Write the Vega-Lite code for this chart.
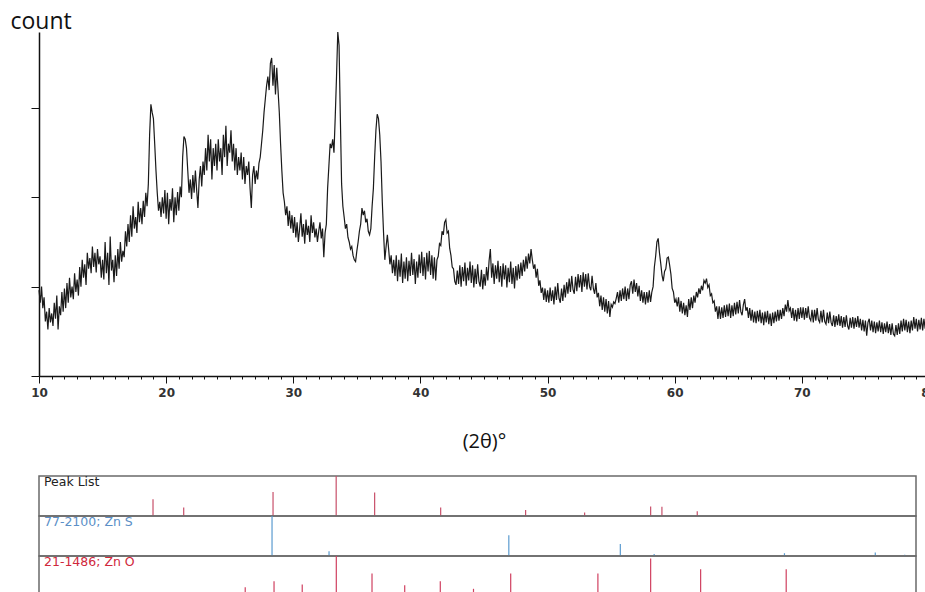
{
"$schema": "https://vega.github.io/schema/vega-lite/v6.json",
"padding": {"left": 10, "top": 10, "right": 0, "bottom": 0},
"background": "white",
"config": {"view": {"stroke": "#6a6a6a", "strokeWidth": 1.5}},
"resolve": {"scale": {"x": "independent", "y": "independent", "color": "independent"}},
"spacing": 23,
"vconcat": [
{
"width": 890, "height": 344,
"view": {"stroke": null},
"data": {"values": [
{"theta":10.0,"count":960},{"theta":10.1,"count":820},{"theta":10.2,"count":1000},{"theta":10.3,"count":760},{"theta":10.4,"count":880},{"theta":10.5,"count":610},{"theta":10.6,"count":720},{"theta":10.7,"count":520},{"theta":10.8,"count":760},{"theta":10.9,"count":600},
{"theta":11.0,"count":700},{"theta":11.1,"count":560},{"theta":11.2,"count":820},{"theta":11.3,"count":640},{"theta":11.4,"count":900},{"theta":11.5,"count":520},{"theta":11.6,"count":780},{"theta":11.7,"count":680},{"theta":11.8,"count":940},{"theta":11.9,"count":720},
{"theta":12.0,"count":980},{"theta":12.1,"count":760},{"theta":12.2,"count":1040},{"theta":12.3,"count":820},{"theta":12.4,"count":1100},{"theta":12.5,"count":880},{"theta":12.6,"count":1000},{"theta":12.7,"count":860},{"theta":12.8,"count":1150},{"theta":12.9,"count":940},
{"theta":13.0,"count":1080},{"theta":13.1,"count":900},{"theta":13.2,"count":1220},{"theta":13.3,"count":1000},{"theta":13.4,"count":1300},{"theta":13.5,"count":1100},{"theta":13.6,"count":1250},{"theta":13.7,"count":1020},{"theta":13.8,"count":1380},{"theta":13.9,"count":1200},
{"theta":14.0,"count":1320},{"theta":14.1,"count":1150},{"theta":14.2,"count":1450},{"theta":14.3,"count":1220},{"theta":14.4,"count":1380},{"theta":14.5,"count":1160},{"theta":14.6,"count":1420},{"theta":14.7,"count":1250},{"theta":14.8,"count":1340},{"theta":14.9,"count":1100},
{"theta":15.0,"count":1300},{"theta":15.1,"count":1080},{"theta":15.2,"count":1500},{"theta":15.3,"count":1150},{"theta":15.4,"count":1380},{"theta":15.5,"count":1020},{"theta":15.6,"count":1560},{"theta":15.7,"count":1180},{"theta":15.8,"count":1300},{"theta":15.9,"count":1050},
{"theta":16.0,"count":1350},{"theta":16.1,"count":1120},{"theta":16.2,"count":1420},{"theta":16.3,"count":1200},{"theta":16.4,"count":1500},{"theta":16.5,"count":1280},{"theta":16.6,"count":1400},{"theta":16.7,"count":1330},{"theta":16.8,"count":1620},{"theta":16.9,"count":1450},
{"theta":17.0,"count":1700},{"theta":17.1,"count":1500},{"theta":17.2,"count":1800},{"theta":17.3,"count":1560},{"theta":17.4,"count":1900},{"theta":17.5,"count":1650},{"theta":17.6,"count":1780},{"theta":17.7,"count":1600},{"theta":17.8,"count":1950},{"theta":17.9,"count":1720},
{"theta":18.0,"count":1880},{"theta":18.1,"count":1700},{"theta":18.2,"count":1960},{"theta":18.3,"count":1780},{"theta":18.4,"count":2050},{"theta":18.5,"count":1900},{"theta":18.6,"count":2150},{"theta":18.7,"count":2700},{"theta":18.8,"count":3040},{"theta":18.9,"count":2950},
{"theta":19.0,"count":2880},{"theta":19.1,"count":2600},{"theta":19.2,"count":2300},{"theta":19.3,"count":2050},{"theta":19.4,"count":1850},{"theta":19.5,"count":1950},{"theta":19.6,"count":1780},{"theta":19.7,"count":2000},{"theta":19.8,"count":1820},{"theta":19.9,"count":2080},
{"theta":20.0,"count":1760},{"theta":20.1,"count":2050},{"theta":20.2,"count":1700},{"theta":20.3,"count":1980},{"theta":20.4,"count":1850},{"theta":20.5,"count":2100},{"theta":20.6,"count":1720},{"theta":20.7,"count":2000},{"theta":20.8,"count":1800},{"theta":20.9,"count":2060},
{"theta":21.0,"count":1850},{"theta":21.1,"count":2120},{"theta":21.2,"count":2000},{"theta":21.3,"count":2450},{"theta":21.4,"count":2680},{"theta":21.5,"count":2650},{"theta":21.6,"count":2550},{"theta":21.7,"count":2300},{"theta":21.8,"count":2050},{"theta":21.9,"count":2200},
{"theta":22.0,"count":1980},{"theta":22.1,"count":2250},{"theta":22.2,"count":2050},{"theta":22.3,"count":2300},{"theta":22.4,"count":2080},{"theta":22.5,"count":1880},{"theta":22.6,"count":2200},{"theta":22.7,"count":2350},{"theta":22.8,"count":2120},{"theta":22.9,"count":2400},
{"theta":23.0,"count":2250},{"theta":23.1,"count":2550},{"theta":23.2,"count":2300},{"theta":23.3,"count":2700},{"theta":23.4,"count":2400},{"theta":23.5,"count":2650},{"theta":23.6,"count":2200},{"theta":23.7,"count":2550},{"theta":23.8,"count":2350},{"theta":23.9,"count":2600},
{"theta":24.0,"count":2300},{"theta":24.1,"count":2650},{"theta":24.2,"count":2400},{"theta":24.3,"count":2550},{"theta":24.4,"count":2250},{"theta":24.5,"count":2700},{"theta":24.6,"count":2450},{"theta":24.7,"count":2800},{"theta":24.8,"count":2350},{"theta":24.9,"count":2600},
{"theta":25.0,"count":2500},{"theta":25.1,"count":2750},{"theta":25.2,"count":2400},{"theta":25.3,"count":2600},{"theta":25.4,"count":2300},{"theta":25.5,"count":2550},{"theta":25.6,"count":2250},{"theta":25.7,"count":2450},{"theta":25.8,"count":2300},{"theta":25.9,"count":2500},
{"theta":26.0,"count":2200},{"theta":26.1,"count":2450},{"theta":26.2,"count":2150},{"theta":26.3,"count":2350},{"theta":26.4,"count":2250},{"theta":26.5,"count":2400},{"theta":26.6,"count":2100},{"theta":26.7,"count":1880},{"theta":26.8,"count":2250},{"theta":26.9,"count":2350},
{"theta":27.0,"count":2150},{"theta":27.1,"count":2300},{"theta":27.2,"count":2200},{"theta":27.3,"count":2380},{"theta":27.4,"count":2450},{"theta":27.5,"count":2600},{"theta":27.6,"count":2750},{"theta":27.7,"count":2950},{"theta":27.8,"count":3100},{"theta":27.9,"count":3250},
{"theta":28.0,"count":3350},{"theta":28.1,"count":3200},{"theta":28.2,"count":3500},{"theta":28.3,"count":3560},{"theta":28.4,"count":3250},{"theta":28.5,"count":3480},{"theta":28.6,"count":3150},{"theta":28.7,"count":3450},{"theta":28.8,"count":3200},{"theta":28.9,"count":2950},
{"theta":29.0,"count":2600},{"theta":29.1,"count":2300},{"theta":29.2,"count":2050},{"theta":29.3,"count":1950},{"theta":29.4,"count":1800},{"theta":29.5,"count":1900},{"theta":29.6,"count":1680},{"theta":29.7,"count":1850},{"theta":29.8,"count":1650},{"theta":29.9,"count":1800},
{"theta":30.0,"count":1600},{"theta":30.1,"count":1780},{"theta":30.2,"count":1550},{"theta":30.3,"count":1720},{"theta":30.4,"count":1500},{"theta":30.5,"count":1650},{"theta":30.6,"count":1820},{"theta":30.7,"count":1560},{"theta":30.8,"count":1700},{"theta":30.9,"count":1480},
{"theta":31.0,"count":1750},{"theta":31.1,"count":1580},{"theta":31.2,"count":1680},{"theta":31.3,"count":1500},{"theta":31.4,"count":1800},{"theta":31.5,"count":1600},{"theta":31.6,"count":1720},{"theta":31.7,"count":1550},{"theta":31.8,"count":1650},{"theta":31.9,"count":1500},
{"theta":32.0,"count":1620},{"theta":32.1,"count":1720},{"theta":32.2,"count":1540},{"theta":32.3,"count":1650},{"theta":32.4,"count":1330},{"theta":32.5,"count":1600},{"theta":32.6,"count":1700},{"theta":32.7,"count":2100},{"theta":32.8,"count":2350},{"theta":32.9,"count":2600},
{"theta":33.0,"count":2550},{"theta":33.1,"count":2650},{"theta":33.2,"count":2500},{"theta":33.3,"count":2900},{"theta":33.4,"count":3350},{"theta":33.5,"count":3850},{"theta":33.6,"count":3700},{"theta":33.7,"count":2900},{"theta":33.8,"count":2150},{"theta":33.9,"count":1900},
{"theta":34.0,"count":1780},{"theta":34.1,"count":1650},{"theta":34.2,"count":1700},{"theta":34.3,"count":1550},{"theta":34.4,"count":1500},{"theta":34.5,"count":1420},{"theta":34.6,"count":1450},{"theta":34.7,"count":1350},{"theta":34.8,"count":1300},{"theta":34.9,"count":1280},
{"theta":35.0,"count":1400},{"theta":35.1,"count":1500},{"theta":35.2,"count":1620},{"theta":35.3,"count":1700},{"theta":35.4,"count":1880},{"theta":35.5,"count":1800},{"theta":35.6,"count":1850},{"theta":35.7,"count":1720},{"theta":35.8,"count":1760},{"theta":35.9,"count":1620},
{"theta":36.0,"count":1580},{"theta":36.1,"count":1650},{"theta":36.2,"count":1900},{"theta":36.3,"count":2100},{"theta":36.4,"count":2450},{"theta":36.5,"count":2750},{"theta":36.6,"count":2930},{"theta":36.7,"count":2880},{"theta":36.8,"count":2700},{"theta":36.9,"count":2400},
{"theta":37.0,"count":1950},{"theta":37.1,"count":1600},{"theta":37.2,"count":1300},{"theta":37.3,"count":1450},{"theta":37.4,"count":1580},{"theta":37.5,"count":1420},{"theta":37.6,"count":1250},{"theta":37.7,"count":1350},{"theta":37.8,"count":1150},{"theta":37.9,"count":1300},
{"theta":38.0,"count":1120},{"theta":38.1,"count":1350},{"theta":38.2,"count":1060},{"theta":38.3,"count":1300},{"theta":38.4,"count":1110},{"theta":38.5,"count":1370},{"theta":38.6,"count":1040},{"theta":38.7,"count":1280},{"theta":38.8,"count":1090},{"theta":38.9,"count":1330},
{"theta":39.0,"count":1060},{"theta":39.1,"count":1290},{"theta":39.2,"count":1120},{"theta":39.3,"count":1380},{"theta":39.4,"count":1130},{"theta":39.5,"count":1310},{"theta":39.6,"count":1030},{"theta":39.7,"count":1280},{"theta":39.8,"count":1100},{"theta":39.9,"count":1360},
{"theta":40.0,"count":1150},{"theta":40.1,"count":1390},{"theta":40.2,"count":1120},{"theta":40.3,"count":1330},{"theta":40.4,"count":1080},{"theta":40.5,"count":1380},{"theta":40.6,"count":1170},{"theta":40.7,"count":1400},{"theta":40.8,"count":1130},{"theta":40.9,"count":1350},
{"theta":41.0,"count":1090},{"theta":41.1,"count":1330},{"theta":41.2,"count":1070},{"theta":41.3,"count":1300},{"theta":41.4,"count":1340},{"theta":41.5,"count":1480},{"theta":41.6,"count":1460},{"theta":41.7,"count":1620},{"theta":41.8,"count":1580},{"theta":41.9,"count":1720},
{"theta":42.0,"count":1750},{"theta":42.1,"count":1600},{"theta":42.2,"count":1620},{"theta":42.3,"count":1430},{"theta":42.4,"count":1350},{"theta":42.5,"count":1220},{"theta":42.6,"count":1200},{"theta":42.7,"count":1060},{"theta":42.8,"count":1020},{"theta":42.9,"count":1180},
{"theta":43.0,"count":1030},{"theta":43.1,"count":1240},{"theta":43.2,"count":1000},{"theta":43.3,"count":1220},{"theta":43.4,"count":1060},{"theta":43.5,"count":1270},{"theta":43.6,"count":1010},{"theta":43.7,"count":1210},{"theta":43.8,"count":1070},{"theta":43.9,"count":1280},
{"theta":44.0,"count":1040},{"theta":44.1,"count":1240},{"theta":44.2,"count":990},{"theta":44.3,"count":1200},{"theta":44.4,"count":1030},{"theta":44.5,"count":1250},{"theta":44.6,"count":1060},{"theta":44.7,"count":1000},{"theta":44.8,"count":1190},{"theta":44.9,"count":970},
{"theta":45.0,"count":1140},{"theta":45.1,"count":1010},{"theta":45.2,"count":1220},{"theta":45.3,"count":1070},{"theta":45.4,"count":1290},{"theta":45.5,"count":1420},{"theta":45.6,"count":1100},{"theta":45.7,"count":1260},{"theta":45.8,"count":1030},{"theta":45.9,"count":1240},
{"theta":46.0,"count":1090},{"theta":46.1,"count":1290},{"theta":46.2,"count":1050},{"theta":46.3,"count":1230},{"theta":46.4,"count":1000},{"theta":46.5,"count":1260},{"theta":46.6,"count":1080},{"theta":46.7,"count":1240},{"theta":46.8,"count":990},{"theta":46.9,"count":1210},
{"theta":47.0,"count":1050},{"theta":47.1,"count":1280},{"theta":47.2,"count":1030},{"theta":47.3,"count":1210},{"theta":47.4,"count":980},{"theta":47.5,"count":1230},{"theta":47.6,"count":1070},{"theta":47.7,"count":1250},{"theta":47.8,"count":1090},{"theta":47.9,"count":1270},
{"theta":48.0,"count":1120},{"theta":48.1,"count":1300},{"theta":48.2,"count":1170},{"theta":48.3,"count":1340},{"theta":48.4,"count":1200},{"theta":48.5,"count":1370},{"theta":48.6,"count":1260},{"theta":48.7,"count":1420},{"theta":48.8,"count":1300},{"theta":48.9,"count":1200},
{"theta":49.0,"count":1250},{"theta":49.1,"count":1100},{"theta":49.2,"count":1200},{"theta":49.3,"count":1010},{"theta":49.4,"count":1070},{"theta":49.5,"count":930},{"theta":49.6,"count":990},{"theta":49.7,"count":850},{"theta":49.8,"count":980},{"theta":49.9,"count":830},
{"theta":50.0,"count":960},{"theta":50.1,"count":820},{"theta":50.2,"count":990},{"theta":50.3,"count":840},{"theta":50.4,"count":960},{"theta":50.5,"count":800},{"theta":50.6,"count":1000},{"theta":50.7,"count":850},{"theta":50.8,"count":1040},{"theta":50.9,"count":870},
{"theta":51.0,"count":820},{"theta":51.1,"count":980},{"theta":51.2,"count":840},{"theta":51.3,"count":1020},{"theta":51.4,"count":880},{"theta":51.5,"count":1050},{"theta":51.6,"count":920},{"theta":51.7,"count":1090},{"theta":51.8,"count":940},{"theta":51.9,"count":1120},
{"theta":52.0,"count":970},{"theta":52.1,"count":920},{"theta":52.2,"count":1110},{"theta":52.3,"count":950},{"theta":52.4,"count":1140},{"theta":52.5,"count":990},{"theta":52.6,"count":1130},{"theta":52.7,"count":940},{"theta":52.8,"count":1160},{"theta":52.9,"count":1000},
{"theta":53.0,"count":1140},{"theta":53.1,"count":970},{"theta":53.2,"count":1150},{"theta":53.3,"count":1000},{"theta":53.4,"count":960},{"theta":53.5,"count":1120},{"theta":53.6,"count":980},{"theta":53.7,"count":920},{"theta":53.8,"count":1040},{"theta":53.9,"count":880},
{"theta":54.0,"count":930},{"theta":54.1,"count":780},{"theta":54.2,"count":900},{"theta":54.3,"count":740},{"theta":54.4,"count":880},{"theta":54.5,"count":720},{"theta":54.6,"count":860},{"theta":54.7,"count":700},{"theta":54.8,"count":840},{"theta":54.9,"count":660},
{"theta":55.0,"count":800},{"theta":55.1,"count":770},{"theta":55.2,"count":830},{"theta":55.3,"count":810},{"theta":55.4,"count":870},{"theta":55.5,"count":940},{"theta":55.6,"count":820},{"theta":55.7,"count":960},{"theta":55.8,"count":840},{"theta":55.9,"count":980},
{"theta":56.0,"count":860},{"theta":56.1,"count":1000},{"theta":56.2,"count":840},{"theta":56.3,"count":980},{"theta":56.4,"count":860},{"theta":56.5,"count":1020},{"theta":56.6,"count":1060},{"theta":56.7,"count":920},{"theta":56.8,"count":1080},{"theta":56.9,"count":940},
{"theta":57.0,"count":1040},{"theta":57.1,"count":890},{"theta":57.2,"count":1010},{"theta":57.3,"count":840},{"theta":57.4,"count":960},{"theta":57.5,"count":820},{"theta":57.6,"count":940},{"theta":57.7,"count":800},{"theta":57.8,"count":940},{"theta":57.9,"count":820},
{"theta":58.0,"count":960},{"theta":58.1,"count":830},{"theta":58.2,"count":940},{"theta":58.3,"count":1000},{"theta":58.4,"count":1220},{"theta":58.5,"count":1340},{"theta":58.6,"count":1500},{"theta":58.7,"count":1540},{"theta":58.8,"count":1380},{"theta":58.9,"count":1260},
{"theta":59.0,"count":1130},{"theta":59.1,"count":1060},{"theta":59.2,"count":1170},{"theta":59.3,"count":1200},{"theta":59.4,"count":1320},{"theta":59.5,"count":1330},{"theta":59.6,"count":1240},{"theta":59.7,"count":1140},{"theta":59.8,"count":980},{"theta":59.9,"count":940},
{"theta":60.0,"count":820},{"theta":60.1,"count":860},{"theta":60.2,"count":780},{"theta":60.3,"count":880},{"theta":60.4,"count":720},{"theta":60.5,"count":840},{"theta":60.6,"count":700},{"theta":60.7,"count":820},{"theta":60.8,"count":680},{"theta":60.9,"count":790},
{"theta":61.0,"count":660},{"theta":61.1,"count":860},{"theta":61.2,"count":740},{"theta":61.3,"count":880},{"theta":61.4,"count":760},{"theta":61.5,"count":900},{"theta":61.6,"count":820},{"theta":61.7,"count":940},{"theta":61.8,"count":880},{"theta":61.9,"count":980},
{"theta":62.0,"count":920},{"theta":62.1,"count":1010},{"theta":62.2,"count":960},{"theta":62.3,"count":1070},{"theta":62.4,"count":1040},{"theta":62.5,"count":1090},{"theta":62.6,"count":990},{"theta":62.7,"count":1020},{"theta":62.8,"count":900},{"theta":62.9,"count":920},
{"theta":63.0,"count":820},{"theta":63.1,"count":840},{"theta":63.2,"count":720},{"theta":63.3,"count":780},{"theta":63.4,"count":640},{"theta":63.5,"count":780},{"theta":63.6,"count":640},{"theta":63.7,"count":770},{"theta":63.8,"count":650},{"theta":63.9,"count":790},
{"theta":64.0,"count":660},{"theta":64.1,"count":800},{"theta":64.2,"count":670},{"theta":64.3,"count":810},{"theta":64.4,"count":650},{"theta":64.5,"count":790},{"theta":64.6,"count":670},{"theta":64.7,"count":820},{"theta":64.8,"count":690},{"theta":64.9,"count":830},
{"theta":65.0,"count":700},{"theta":65.1,"count":850},{"theta":65.2,"count":720},{"theta":65.3,"count":680},{"theta":65.4,"count":800},{"theta":65.5,"count":860},{"theta":65.6,"count":730},{"theta":65.7,"count":770},{"theta":65.8,"count":650},{"theta":65.9,"count":760},
{"theta":66.0,"count":620},{"theta":66.1,"count":740},{"theta":66.2,"count":600},{"theta":66.3,"count":720},{"theta":66.4,"count":590},{"theta":66.5,"count":730},{"theta":66.6,"count":610},{"theta":66.7,"count":740},{"theta":66.8,"count":590},{"theta":66.9,"count":710},
{"theta":67.0,"count":570},{"theta":67.1,"count":720},{"theta":67.2,"count":600},{"theta":67.3,"count":730},{"theta":67.4,"count":580},{"theta":67.5,"count":700},{"theta":67.6,"count":560},{"theta":67.7,"count":710},{"theta":67.8,"count":590},{"theta":67.9,"count":720},
{"theta":68.0,"count":610},{"theta":68.1,"count":740},{"theta":68.2,"count":620},{"theta":68.3,"count":740},{"theta":68.4,"count":640},{"theta":68.5,"count":760},{"theta":68.6,"count":670},{"theta":68.7,"count":800},{"theta":68.8,"count":720},{"theta":68.9,"count":850},
{"theta":69.0,"count":730},{"theta":69.1,"count":760},{"theta":69.2,"count":650},{"theta":69.3,"count":760},{"theta":69.4,"count":620},{"theta":69.5,"count":740},{"theta":69.6,"count":610},{"theta":69.7,"count":760},{"theta":69.8,"count":640},{"theta":69.9,"count":770},
{"theta":70.0,"count":650},{"theta":70.1,"count":770},{"theta":70.2,"count":630},{"theta":70.3,"count":760},{"theta":70.4,"count":650},{"theta":70.5,"count":780},{"theta":70.6,"count":650},{"theta":70.7,"count":620},{"theta":70.8,"count":740},{"theta":70.9,"count":600},
{"theta":71.0,"count":740},{"theta":71.1,"count":620},{"theta":71.2,"count":760},{"theta":71.3,"count":630},{"theta":71.4,"count":600},{"theta":71.5,"count":730},{"theta":71.6,"count":600},{"theta":71.7,"count":740},{"theta":71.8,"count":610},{"theta":71.9,"count":580},
{"theta":72.0,"count":710},{"theta":72.1,"count":590},{"theta":72.2,"count":720},{"theta":72.3,"count":600},{"theta":72.4,"count":560},{"theta":72.5,"count":680},{"theta":72.6,"count":550},{"theta":72.7,"count":670},{"theta":72.8,"count":570},{"theta":72.9,"count":690},
{"theta":73.0,"count":560},{"theta":73.1,"count":670},{"theta":73.2,"count":540},{"theta":73.3,"count":660},{"theta":73.4,"count":550},{"theta":73.5,"count":680},{"theta":73.6,"count":560},{"theta":73.7,"count":520},{"theta":73.8,"count":650},{"theta":73.9,"count":540},
{"theta":74.0,"count":660},{"theta":74.1,"count":530},{"theta":74.2,"count":650},{"theta":74.3,"count":550},{"theta":74.4,"count":670},{"theta":74.5,"count":540},{"theta":74.6,"count":640},{"theta":74.7,"count":510},{"theta":74.8,"count":630},{"theta":74.9,"count":500},
{"theta":75.0,"count":620},{"theta":75.1,"count":450},{"theta":75.2,"count":600},{"theta":75.3,"count":640},{"theta":75.4,"count":510},{"theta":75.5,"count":620},{"theta":75.6,"count":490},{"theta":75.7,"count":610},{"theta":75.8,"count":480},{"theta":75.9,"count":600},
{"theta":76.0,"count":500},{"theta":76.1,"count":620},{"theta":76.2,"count":490},{"theta":76.3,"count":600},{"theta":76.4,"count":470},{"theta":76.5,"count":590},{"theta":76.6,"count":490},{"theta":76.7,"count":610},{"theta":76.8,"count":480},{"theta":76.9,"count":580},
{"theta":77.0,"count":460},{"theta":77.1,"count":590},{"theta":77.2,"count":470},{"theta":77.3,"count":450},{"theta":77.4,"count":570},{"theta":77.5,"count":460},{"theta":77.6,"count":590},{"theta":77.7,"count":470},{"theta":77.8,"count":620},{"theta":77.9,"count":500},
{"theta":78.0,"count":640},{"theta":78.1,"count":510},{"theta":78.2,"count":630},{"theta":78.3,"count":490},{"theta":78.4,"count":610},{"theta":78.5,"count":480},{"theta":78.6,"count":620},{"theta":78.7,"count":510},{"theta":78.8,"count":660},{"theta":78.9,"count":530},
{"theta":79.0,"count":640},{"theta":79.1,"count":500},{"theta":79.2,"count":630},{"theta":79.3,"count":520},{"theta":79.4,"count":650},{"theta":79.5,"count":510},{"theta":79.6,"count":640},{"theta":79.7,"count":530},{"theta":79.8,"count":660},{"theta":79.9,"count":540},
{"theta":80.0,"count":630}
]},
"mark": {"type": "line", "color": "#1a1a1a", "strokeWidth": 1.2},
"encoding": {
"x": {"field": "theta", "type": "quantitative", "scale": {"domain": [10, 80], "nice": false, "zero": false},
 "axis": {"values": [10,11,12,13,14,15,16,17,18,19,20,21,22,23,24,25,26,27,28,29,30,31,32,33,34,35,36,37,38,39,40,41,42,43,44,45,46,47,48,49,50,51,52,53,54,55,56,57,58,59,60,61,62,63,64,65,66,67,68,69,70,71,72,73,74,75,76,77,78,79,80],
  "labelExpr": "datum.value % 10 === 0 ? datum.label : ''",
  "tickSize": {"condition": {"test": "datum.value % 10 === 0", "value": 7}, "value": 3},
  "labelOverlap": false, "labelFlush": false, "grid": false,
  "domainColor": "#111", "domainWidth": 1.5, "tickColor": "#111", "tickWidth": 1,
  "labelFont": "DejaVu Sans", "labelFontSize": 12, "labelFontWeight": "bold", "labelColor": "#333", "labelPadding": 4,
  "title": "(2θ)°", "titleFont": "Open Sans", "titleFontSize": 20, "titleFontWeight": "normal", "titleColor": "#111", "titlePadding": 33}},
"y": {"field": "count", "type": "quantitative", "scale": {"domain": [0, 3850], "nice": false},
 "axis": {"values": [0, 1000, 2000, 3000], "labels": false, "tickSize": 8, "grid": false,
  "domainColor": "#111", "domainWidth": 1.5, "tickColor": "#111",
  "title": "count", "titleAngle": 0, "titleAlign": "left", "titleBaseline": "alphabetic", "titleX": -29, "titleY": -4,
  "titleFont": "Open Sans", "titleFontSize": 23, "titleFontWeight": "normal", "titleColor": "#111"}}
}
},
{
"data": {"values": [
{"strip":"Peak List","pos":19.10,"intensity":42},{"strip":"Peak List","pos":21.55,"intensity":21},{"strip":"Peak List","pos":28.68,"intensity":60},{"strip":"Peak List","pos":33.72,"intensity":100},{"strip":"Peak List","pos":36.79,"intensity":59},{"strip":"Peak List","pos":42.06,"intensity":21},{"strip":"Peak List","pos":48.84,"intensity":15},{"strip":"Peak List","pos":53.55,"intensity":9},{"strip":"Peak List","pos":58.82,"intensity":24},{"strip":"Peak List","pos":59.72,"intensity":23},{"strip":"Peak List","pos":62.54,"intensity":12},
{"strip":"77-2100; Zn S","pos":28.60,"intensity":100},{"strip":"77-2100; Zn S","pos":33.15,"intensity":12},{"strip":"77-2100; Zn S","pos":47.50,"intensity":52},{"strip":"77-2100; Zn S","pos":56.40,"intensity":30},{"strip":"77-2100; Zn S","pos":59.10,"intensity":5},{"strip":"77-2100; Zn S","pos":69.50,"intensity":7},{"strip":"77-2100; Zn S","pos":76.75,"intensity":9},{"strip":"77-2100; Zn S","pos":79.10,"intensity":3},
{"strip":"21-1486; Zn O","pos":26.46,"intensity":22},{"strip":"21-1486; Zn O","pos":28.76,"intensity":37},{"strip":"21-1486; Zn O","pos":31.01,"intensity":29},{"strip":"21-1486; Zn O","pos":33.73,"intensity":100},{"strip":"21-1486; Zn O","pos":36.58,"intensity":56},{"strip":"21-1486; Zn O","pos":39.19,"intensity":27},{"strip":"21-1486; Zn O","pos":42.03,"intensity":37},{"strip":"21-1486; Zn O","pos":44.68,"intensity":18},{"strip":"21-1486; Zn O","pos":47.65,"intensity":56},{"strip":"21-1486; Zn O","pos":54.61,"intensity":56},{"strip":"21-1486; Zn O","pos":58.82,"intensity":94},{"strip":"21-1486; Zn O","pos":62.81,"intensity":67},{"strip":"21-1486; Zn O","pos":69.64,"intensity":67}
]},
"facet": {"row": {"field": "strip", "type": "nominal", "sort": ["Peak List", "77-2100; Zn S", "21-1486; Zn O"], "header": null}},
"spacing": {"row": 0},
"bounds": "flush",
"spec": {
"width": 877, "height": 40,
"resolve": {"scale": {"color": "independent"}},
"layer": [
{"mark": {"type": "rule", "strokeWidth": 1.2},
"encoding": {
"x": {"field": "pos", "type": "quantitative", "scale": {"domain": [10, 80], "nice": false, "zero": false}, "axis": null},
"y": {"field": "intensity", "type": "quantitative", "scale": {"domain": [0, 100], "nice": false}, "axis": null},
"y2": {"datum": 0},
"color": {"field": "strip", "type": "nominal", "scale": {"domain": ["Peak List", "77-2100; Zn S", "21-1486; Zn O"], "range": ["#c8506a", "#5b9bd0", "#d04060"]}, "legend": null}}},
{"transform": [{"aggregate": [{"op": "count", "as": "n"}], "groupby": ["strip"]}],
"mark": {"type": "text", "align": "left", "baseline": "top", "dx": 5, "dy": 0, "font": "DejaVu Sans", "fontSize": 12.5},
"encoding": {
"x": {"datum": 10, "type": "quantitative"},
"y": {"datum": 100, "type": "quantitative"},
"text": {"field": "strip"},
"color": {"field": "strip", "type": "nominal", "scale": {"domain": ["Peak List", "77-2100; Zn S", "21-1486; Zn O"], "range": ["#222222", "#5b8fc7", "#d0283c"]}, "legend": null}}}
]
}
}
]
}
